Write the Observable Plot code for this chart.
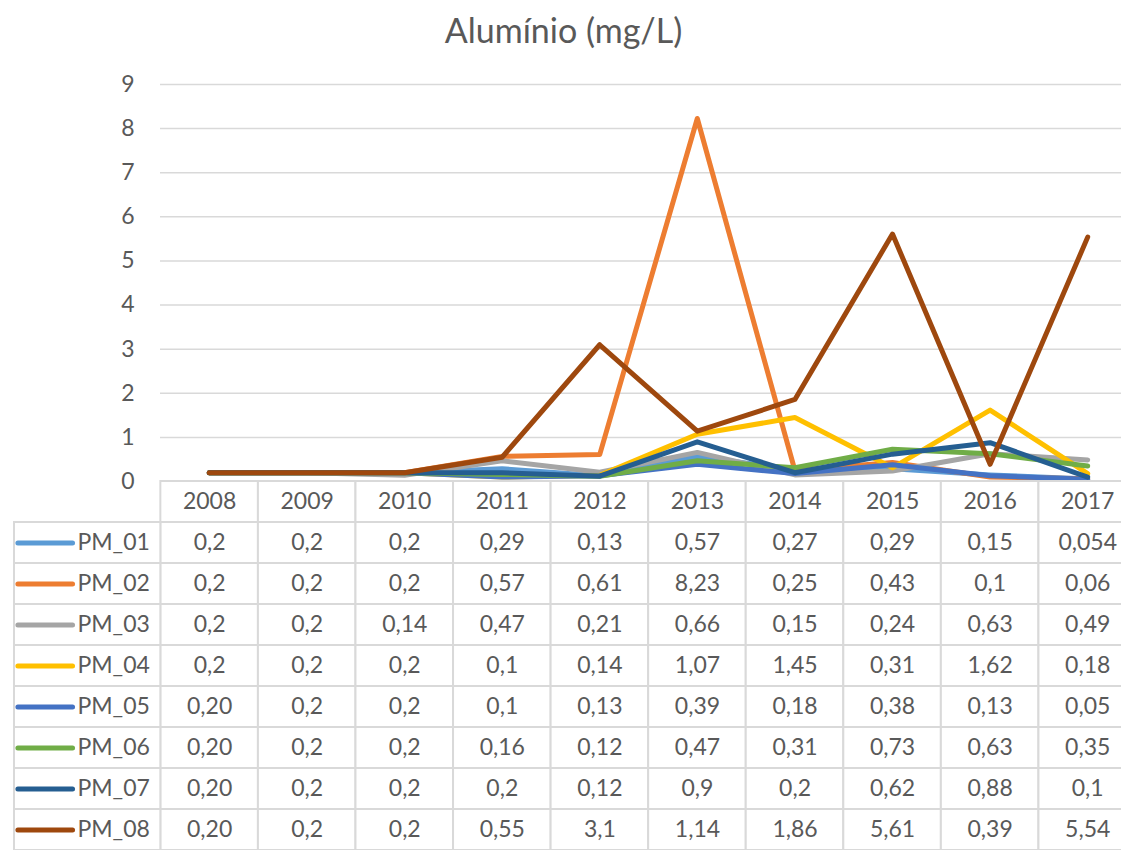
<!DOCTYPE html>
<html>
<head>
<meta charset="utf-8">
<script src="https://cdn.jsdelivr.net/npm/d3@7"></script>
<script src="https://cdn.jsdelivr.net/npm/@observablehq/plot@0.6"></script>
<style>
  html, body { margin: 0; padding: 0; background: #fff; overflow: hidden; }
  body { width: 1121px; height: 850px; font-family: Lato, "Open Sans", sans-serif; color: #595959; }
  #title { height: 60px; line-height: 60px; text-align: center; font-size: 34px; padding-left: 6px; }
  svg { display: block; }
</style>
</head>
<body>
<div id="title">Alumínio (mg/L)</div>
<div id="chart"></div>
<div id="table"></div>
<script>
// Monitoring years and sampling points
const years = [2008, 2009, 2010, 2011, 2012, 2013, 2014, 2015, 2016, 2017];
const series = ["PM_01", "PM_02", "PM_03", "PM_04", "PM_05", "PM_06", "PM_07", "PM_08"];
const colors = ["#5b9bd5", "#ed7d31", "#a5a5a5", "#ffc000", "#4472c4", "#70ad47", "#255e91", "#9e480e"];

// Aluminium concentration (mg/L), as printed in the data table
const pm01 = ["0,2", "0,2", "0,2", "0,29", "0,13", "0,57", "0,27", "0,29", "0,15", "0,054"];
const pm02 = ["0,2", "0,2", "0,2", "0,57", "0,61", "8,23", "0,25", "0,43", "0,1", "0,06"];
const pm03 = ["0,2", "0,2", "0,14", "0,47", "0,21", "0,66", "0,15", "0,24", "0,63", "0,49"];
const pm04 = ["0,2", "0,2", "0,2", "0,1", "0,14", "1,07", "1,45", "0,31", "1,62", "0,18"];
const pm05 = ["0,20", "0,2", "0,2", "0,1", "0,13", "0,39", "0,18", "0,38", "0,13", "0,05"];
const pm06 = ["0,20", "0,2", "0,2", "0,16", "0,12", "0,47", "0,31", "0,73", "0,63", "0,35"];
const pm07 = ["0,20", "0,2", "0,2", "0,2", "0,12", "0,9", "0,2", "0,62", "0,88", "0,1"];
const pm08 = ["0,20", "0,2", "0,2", "0,55", "3,1", "1,14", "1,86", "5,61", "0,39", "5,54"];

const yTicks = [0, 1, 2, 3, 4, 5, 6, 7, 8, 9];

const labelsBySeries = [pm01, pm02, pm03, pm04, pm05, pm06, pm07, pm08];
const rows = series.flatMap((s, i) =>
  years.map((year, j) => ({
    series: s,
    year,
    label: labelsBySeries[i][j],
    value: +labelsBySeries[i][j].replace(",", ".")
  }))
);

const textColor = "#595959";
const gridColor = "#d9d9d9";
const font = "Lato, 'Open Sans', sans-serif";
const color = {domain: series, range: colors};

// Horizontal layout shared by the chart and the table: one column per year,
// plus a wider legend column on the left of the table.
const firstEdge = years[0] - 0.5;
const lastEdge = years[years.length - 1] + 0.5;
const legendStart = 2006;

// Line chart
const chart = Plot.plot({
  width: 1121,
  height: 421,
  marginTop: 24,
  marginBottom: 0,
  marginLeft: 160,
  marginRight: -15,
  style: {fontFamily: font, fontSize: "23px", color: textColor, background: "transparent", overflow: "visible"},
  x: {domain: [firstEdge, lastEdge], axis: null},
  y: {domain: [0, 9], ticks: yTicks, tickSize: 0, tickPadding: 26, label: null, tickFormat: d => String(d)},
  color,
  marks: [
    Plot.ruleY(yTicks.filter(d => d > 0), {stroke: gridColor, strokeWidth: 1.5}),
    Plot.line(rows, {
      x: "year",
      y: "value",
      z: "series",
      stroke: "series",
      strokeWidth: 5,
      strokeLinejoin: "round",
      strokeLinecap: "round"
    })
  ]
});
document.getElementById("chart").append(chart);

// Data table with legend keys
const headerKey = "header";
const table = Plot.plot({
  width: 1121,
  height: 369,
  marginTop: 0,
  marginBottom: 0,
  marginLeft: 14,
  marginRight: -15,
  style: {fontFamily: font, fontSize: "23px", color: textColor, background: "transparent", overflow: "visible"},
  x: {domain: [legendStart, lastEdge], axis: null},
  y: {type: "band", domain: [headerKey, ...series], padding: 0, axis: null},
  color,
  marks: [
    // year columns, header row included
    Plot.barX([{series: headerKey}, ...series.map(s => ({series: s}))].flatMap(r => years.map(year => ({...r, year}))), {
      x1: d => d.year - 0.5,
      x2: d => d.year + 0.5,
      y: "series",
      fill: "white",
      stroke: gridColor,
      strokeWidth: 2
    }),
    // legend column
    Plot.barX(series, {
      x1: legendStart,
      x2: firstEdge,
      y: d => d,
      fill: "white",
      stroke: gridColor,
      strokeWidth: 2
    }),
    Plot.ruleY(series, {
      y: d => d,
      x1: legendStart + 0.04,
      x2: legendStart + 0.6,
      stroke: d => d,
      strokeWidth: 5,
      strokeLinecap: "round"
    }),
    Plot.text(series, {
      y: d => d,
      x: legendStart + 0.645,
      text: d => d,
      textAnchor: "start",
      fill: textColor,
      fontSize: 23
    }),
    Plot.text(years, {
      x: d => d,
      y: () => headerKey,
      text: d => String(d),
      fill: textColor,
      fontSize: 23
    }),
    Plot.text(rows, {
      x: "year",
      y: "series",
      text: "label",
      fill: textColor,
      fontSize: 23
    })
  ]
});
document.getElementById("table").append(table);
</script>
</body>
</html>
